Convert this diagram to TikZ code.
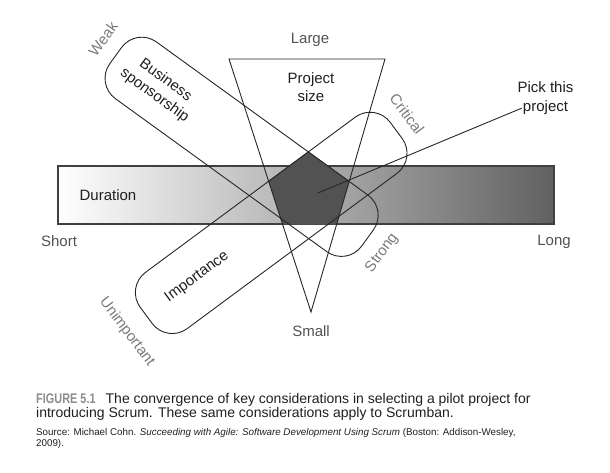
\documentclass[tikz,border=0pt]{standalone}
\usepackage{fontspec}
\setmainfont{Liberation Sans}
\newfontfamily\figfont[FakeStretch=0.78]{Liberation Sans}
\usetikzlibrary{positioning,backgrounds}

\begin{document}
\begin{tikzpicture}[x=1pt, y=1pt,
    capsule/.style={draw=black!85, line width=0.9pt, rectangle, rounded corners=25pt, minimum width=311pt, minimum height=70pt, inner sep=0pt},
    label/.style={font=\fontsize{15}{18.5}\selectfont, text=black!88, align=center, inner sep=1pt},
    pole/.style={label, text=black!68},
    endlabel/.style={label, text=black!52},
    edge/.style={draw=black!85, line width=0.9pt}]
    \useasboundingbox (0,0) rectangle (610,472);

    \node[capsule, rotate=-35.9] (sponsor) at (241.6,325.2) {};
    \node[capsule, rotate=36.5] (importance) at (271.2,249.1) {};

    \coordinate (tl) at (229,413);
    \coordinate (tr) at (385,413);
    \coordinate (tb) at (311,160);
    \draw[edge] (tl) -- (tr) -- (tb) -- cycle;

    \begin{scope}[on background layer]
        \node[draw=black!75, line width=1.2pt, left color=white, right color=black!62, minimum width=496pt, minimum height=58pt] (bar) at (306,277) {};
        \fill[black!68] (intersection of tl--tb and importance.north west--importance.north east)
            -- (intersection of importance.north west--importance.north east and sponsor.north west--sponsor.north east)
            -- (intersection of sponsor.north west--sponsor.north east and tr--tb)
            -- (intersection of tr--tb and bar.south west--bar.south east)
            -- (intersection of tl--tb and bar.south west--bar.south east) -- cycle;
    \end{scope}

    \node[label, anchor=west] (dur) at ([xshift=21pt]bar.west) {Duration};
    \node[pole] (short) at (59,231) {Short};
    \node[pole] (long) at (554,230) {Long};
    \node[pole] (large) at (310,432) {Large};
    \node[pole] (small) at (311,141) {Small};
    \node[label] (size) at (311,385) {Project\\size};

    \node[label, rotate=-36] (sponsorship) at (160,384) {Business\\sponsorship};
    \node[endlabel, rotate=54] (weak) at (103,433) {Weak};
    \node[endlabel, rotate=54] (strong) at (382,219) {Strong};
    \node[label, rotate=36.5] (imp) at (197,195) {Importance};
    \node[endlabel, rotate=-53] (critical) at (407,358) {Critical};
    \node[endlabel, rotate=-53] (unimp) at (127,140) {Unimportant};

    \coordinate (core) at (318,279);
    \node[label, anchor=base] (pick) at (545.5,360) {project};
    \node[label, above=6pt of pick] (pickthis) {Pick this};
    \draw[edge] (core) -- (pick.west);

    % caption
    \node[anchor=north west, align=left, inner sep=0pt, text=black!88, font=\fontsize{14}{14.5}\selectfont] (caption) at (36,79)
        {{\figfont\bfseries\color{black!45}FIGURE 5.1}\hspace{10pt}The convergence of key considerations in selecting a pilot project for\\introducing Scrum. These same considerations apply to Scrumban.};
    \node[anchor=north west, align=left, inner sep=0pt, text=black!88, font=\fontsize{9.8}{11.5}\selectfont] (source) at (36,44)
        {Source: Michael Cohn. \textit{Succeeding with Agile: Software Development Using Scrum} (Boston: Addison-Wesley,\\2009).};
\end{tikzpicture}
\end{document}
